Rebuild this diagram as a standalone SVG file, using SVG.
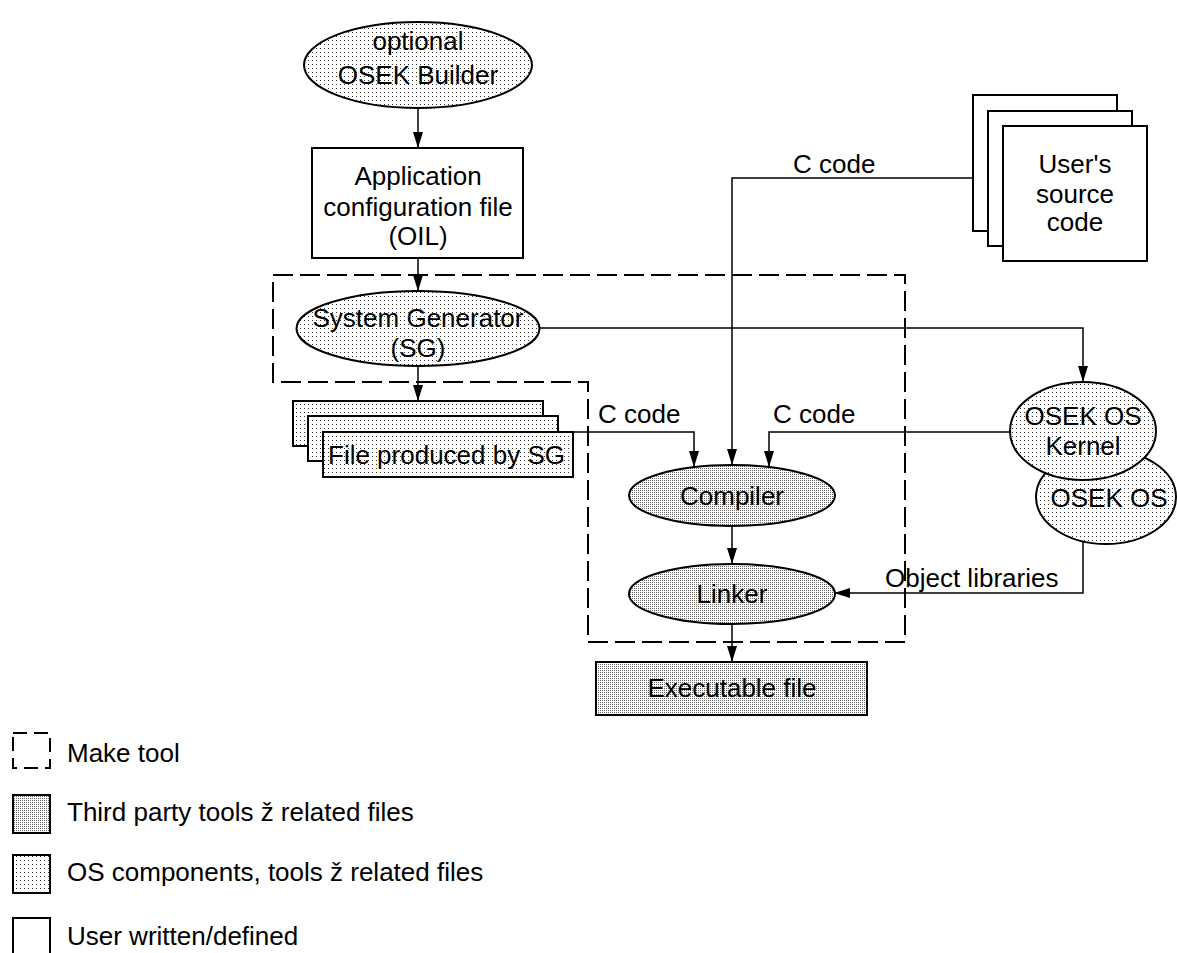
<svg xmlns="http://www.w3.org/2000/svg" width="1177" height="953" viewBox="0 0 1177 953">
<defs>
<pattern id="sparse" width="4" height="4" patternUnits="userSpaceOnUse">
<rect width="4" height="4" fill="#fff"/>
<rect width="1" height="1" fill="#333"/>
</pattern>
<pattern id="dense" width="2" height="2" patternUnits="userSpaceOnUse">
<rect width="2" height="2" fill="#fff"/>
<rect width="1" height="1" fill="#666"/>
</pattern>
<marker id="ah" markerUnits="userSpaceOnUse" markerWidth="17" markerHeight="12" refX="16" refY="5" orient="auto">
<path d="M0,0 L16,5 L0,10 z" fill="#000"/>
</marker>
</defs>
<style>
text{font-family:"Liberation Sans",Arial,sans-serif;font-size:26px;fill:#000}
.c{text-anchor:middle}
.os{fill:url(#sparse);stroke:#000;stroke-width:2}
.tp{fill:url(#dense);stroke:#000;stroke-width:2}
.us{fill:#fff;stroke:#000;stroke-width:2}
.mk{fill:none;stroke:#000;stroke-width:2;stroke-dasharray:20 7}
.cn path{fill:none;stroke:#000;stroke-width:1.5}
.ar{marker-end:url(#ah)}
</style>
<rect width="1177" height="953" fill="#fff"/>

<g id="make-tool">
<path class="mk" d="M273,275 H905 V642 H588 V382 H273 Z"/>
</g>

<g id="connectors" class="cn">
<path class="ar" d="M418,108 V148"/>
<path class="ar" d="M418,258 V291"/>
<path class="ar" d="M418,366 V401"/>
<path class="ar" d="M539,328 H1083 V382"/>
<path class="ar" d="M573,432 H694 V467"/>
<path class="ar" d="M973,178 H732 V465"/>
<path class="ar" d="M1010,432 H769 V467"/>
<path class="ar" d="M1083,542 V593 H834"/>
<path class="ar" d="M732,526 V564"/>
<path class="ar" d="M732,624 V662"/>
<text x="598" y="423">C code</text>
<text x="773" y="423">C code</text>
<text x="793" y="173">C code</text>
<text x="885" y="587">Object libraries</text>
</g>

<g id="osek-builder">
<ellipse class="os" cx="418" cy="65" rx="114" ry="43"/>
<text class="c" x="418" y="50">optional</text>
<text class="c" x="418" y="84">OSEK Builder</text>
</g>

<g id="oil-file">
<rect class="us" x="312" y="148" width="211" height="110"/>
<text class="c" x="418" y="185">Application</text>
<text class="c" x="418" y="216">configuration file</text>
<text class="c" x="418" y="245">(OIL)</text>
</g>

<g id="system-generator">
<ellipse class="os" cx="418" cy="328.5" rx="121.5" ry="37.5"/>
<text class="c" x="418" y="327">System Generator</text>
<text class="c" x="418" y="357">(SG)</text>
</g>

<g id="sg-files">
<rect class="os" x="293" y="401" width="250" height="45"/>
<rect class="os" x="308" y="416" width="250" height="45"/>
<rect class="os" x="323" y="432" width="250" height="45"/>
<text x="328" y="464">File produced by SG</text>
</g>

<g id="user-source">
<rect class="us" x="973" y="95" width="144" height="136"/>
<rect class="us" x="988" y="111" width="144" height="135"/>
<rect class="us" x="1003" y="126" width="144" height="135"/>
<text class="c" x="1075" y="173">User's</text>
<text class="c" x="1075" y="203">source</text>
<text class="c" x="1075" y="231">code</text>
</g>

<g id="osek-os">
<ellipse class="os" cx="1106" cy="497" rx="70" ry="47"/>
<text class="c" x="1109" y="507">OSEK OS</text>
</g>

<g id="osek-kernel">
<ellipse class="os" cx="1083" cy="431" rx="73" ry="49"/>
<text class="c" x="1083" y="425">OSEK OS</text>
<text class="c" x="1083" y="455">Kernel</text>
</g>

<g id="compiler">
<ellipse class="tp" cx="732" cy="495.5" rx="103" ry="30.5"/>
<text class="c" x="732" y="505">Compiler</text>
</g>

<g id="linker">
<ellipse class="tp" cx="732" cy="594" rx="103" ry="30"/>
<text class="c" x="732" y="603">Linker</text>
</g>

<g id="executable">
<rect class="tp" x="596" y="662" width="271" height="53"/>
<text class="c" x="732" y="697">Executable file</text>
</g>

<g id="legend">
<rect class="mk" x="13" y="733" width="37" height="35" style="stroke-dasharray:14 7"/>
<text x="67" y="762">Make tool</text>
<rect class="tp" x="13" y="795" width="37" height="38"/>
<text x="67" y="821">Third party tools ž related files</text>
<rect class="os" x="13" y="855" width="37" height="38"/>
<text x="67" y="881">OS components, tools ž related files</text>
<rect class="us" x="13" y="918" width="37" height="40"/>
<text x="67" y="945">User written/defined</text>
</g>
</svg>
